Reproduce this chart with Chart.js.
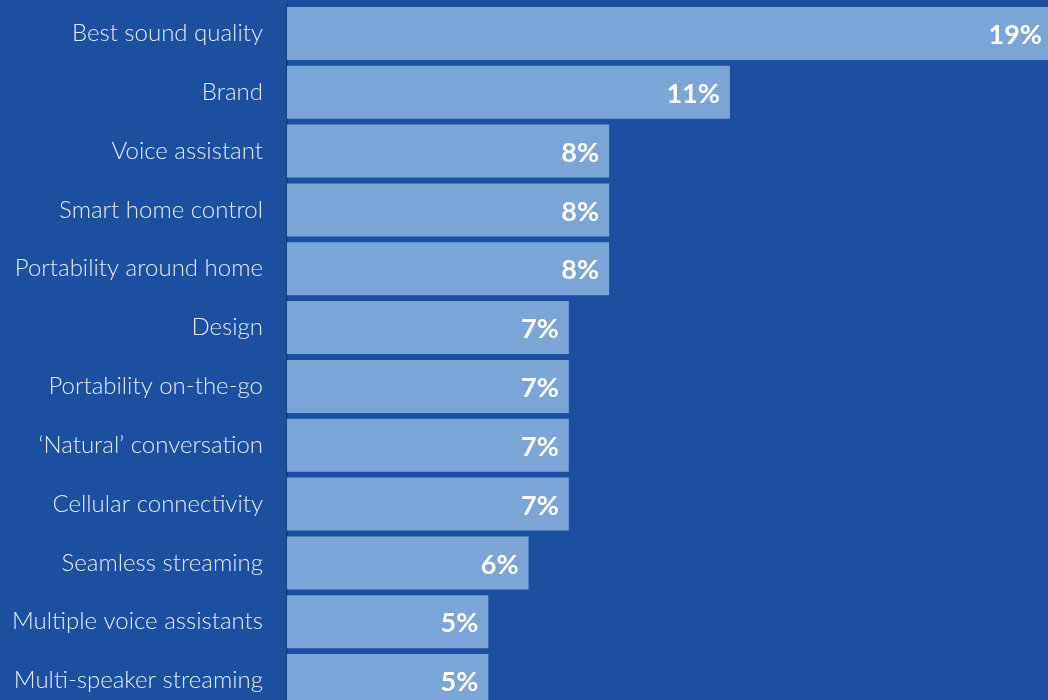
<!DOCTYPE html>
<html>
<head>
<meta charset="utf-8">
<script src="https://cdn.jsdelivr.net/npm/chart.js@4.4.1/dist/chart.umd.min.js"></script>
<style>
  html, body { margin: 0; padding: 0; background: #1b50a0; overflow: hidden; }
  #wrap { width: 1048px; height: 700px; overflow: hidden; }
</style>
</head>
<body>
<div id="wrap"><canvas id="features" width="1048" height="710"></canvas></div>
<script>
const features = [
  'Best sound quality',
  'Brand',
  'Voice assistant',
  'Smart home control',
  'Portability around home',
  'Design',
  'Portability on-the-go',
  '\u2018Natural\u2019 conversation',
  'Cellular connectivity',
  'Seamless streaming',
  'Multiple voice assistants',
  'Multi-speaker streaming'
];
const shares = [19, 11, 8, 8, 8, 7, 7, 7, 7, 6, 5, 5];

const BAR = '#7ba5d7';

// percentage written inside the end of each bar
const valueLabels = {
  id: 'valueLabels',
  afterDatasetsDraw(chart) {
    const { ctx } = chart;
    const meta = chart.getDatasetMeta(0);
    ctx.save();
    ctx.fillStyle = '#ffffff';
    ctx.font = 'bold 27px Lato';
    ctx.textAlign = 'right';
    ctx.textBaseline = 'middle';
    meta.data.forEach((bar, i) => {
      const x = Math.min(bar.x, chart.chartArea.right + 4) - 10;
      ctx.fillText(shares[i] + '%', x, bar.y + 2);
    });
    ctx.restore();
  }
};

new Chart(document.getElementById('features'), {
  type: 'bar',
  data: {
    labels: features,
    datasets: [{
      data: shares,
      backgroundColor: BAR,
      borderWidth: 0,
      barPercentage: 0.9,
      categoryPercentage: 1
    }]
  },
  options: {
    indexAxis: 'y',
    responsive: false,
    animation: false,
    layout: { padding: { top: 4, right: 0, bottom: 0, left: 0 } },
    plugins: {
      legend: { display: false },
      tooltip: { enabled: false }
    },
    scales: {
      x: {
        display: false,
        min: 0,
        max: 18.9
      },
      y: {
        afterFit(scale) {
          scale.width = 287;
          // bars should fill the full height, no room reserved for label overhang
          scale.paddingTop = 0;
          scale.paddingBottom = 0;
        },
        grid: { display: false, drawTicks: false },
        border: { display: true, color: '#163d7c', width: 2 },
        ticks: {
          color: '#e4eaf5',
          padding: 24,
          font: { family: 'Lato', size: 24, weight: 300 }
        }
      }
    }
  },
  plugins: [valueLabels]
});
</script>
</body>
</html>
